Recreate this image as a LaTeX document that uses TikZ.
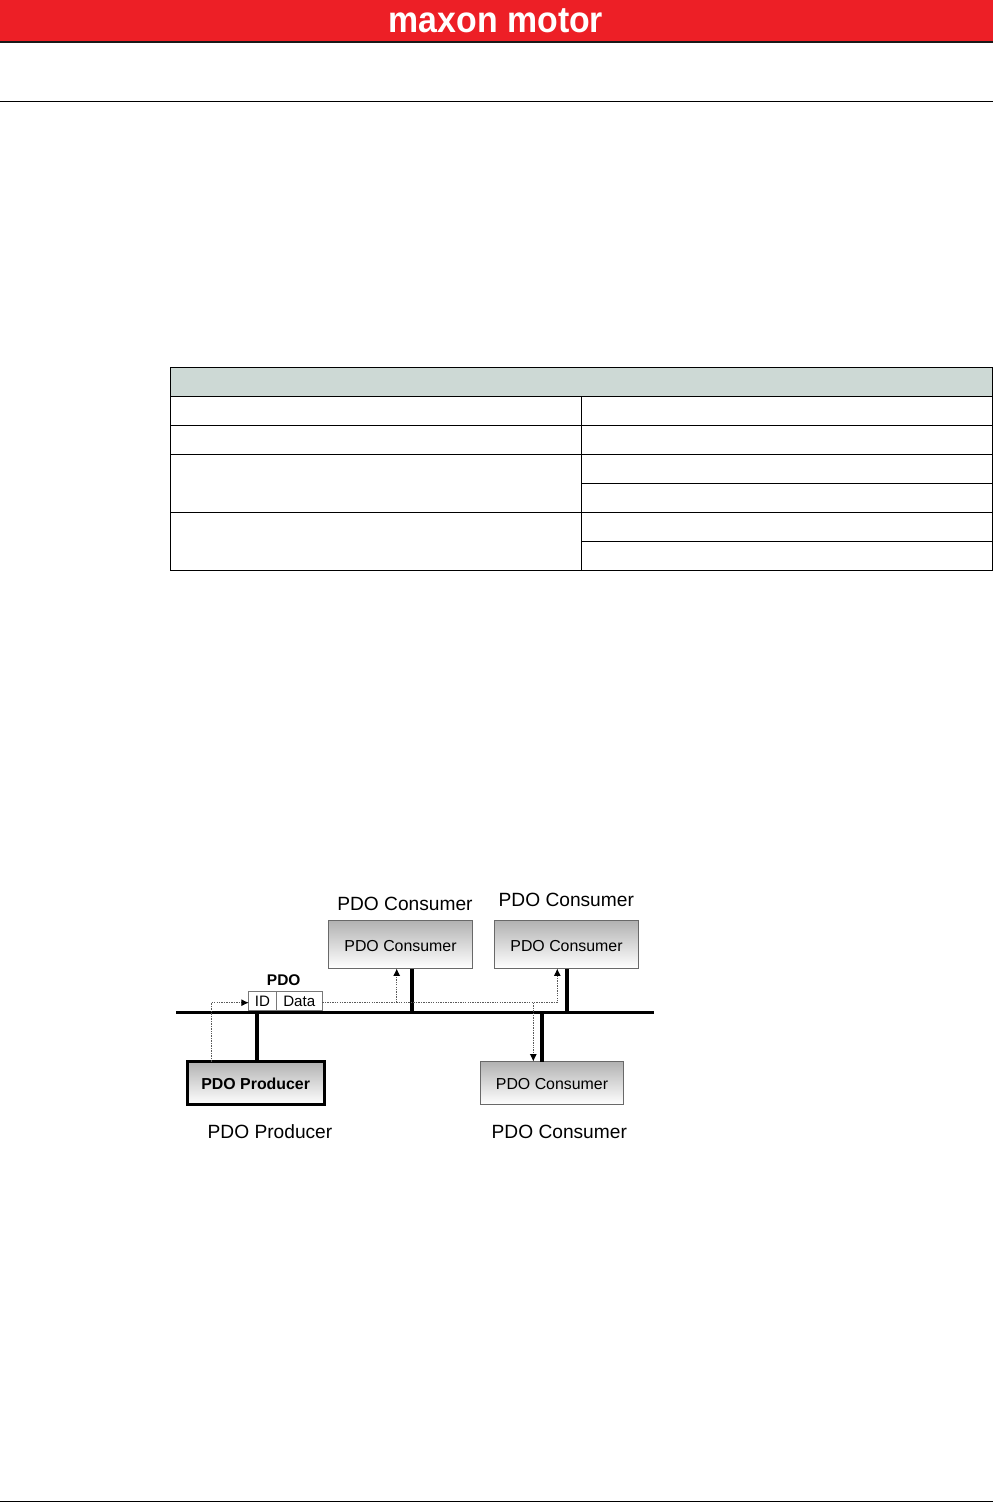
\documentclass[tikz,border=0pt]{standalone}
\usepackage{fontspec}
\setmainfont{Liberation Sans}
\usetikzlibrary{arrows.meta}
\begin{document}
\begin{tikzpicture}[x=0.01cm, y=-0.01cm]
  % Colors
  \definecolor{bandcol}{RGB}{237,31,38}
  \definecolor{headcol}{RGB}{205,217,213}
  \definecolor{boxline}{RGB}{105,105,105}
  \definecolor{cellline}{RGB}{120,120,120}
  \definecolor{flowcol}{RGB}{90,90,90}
  \definecolor{shadecol}{RGB}{178,178,178}
  %
  \tikzset{
    pdobox/.style={draw=boxline, line width=0.3pt, minimum width=144*0.01cm, minimum height=48*0.01cm,
                   inner sep=0pt, outer sep=0pt, top color=shadecol, bottom color=white,
                   text height=3.7pt, text depth=0pt, font=\fontsize{4.52}{5}\selectfont},
    cell/.style={draw=cellline, line width=0.3pt, fill=white, minimum height=19*0.01cm, inner sep=0pt,
                 outer sep=0pt, anchor=north west, text height=3.3pt, text depth=0pt,
                 font=\fontsize{4.3}{5}\selectfont},
    caption/.style={font=\fontsize{5.45}{6}\selectfont, inner sep=0pt},
    busline/.style={line width=1pt},
    stubline/.style={line width=1.15pt},
    flowline/.style={draw=flowcol, line width=0.25pt, dash pattern=on 0.4pt off 0.3pt},
    flowtip/.style={flowline, -{Latex[length=2.1pt, width=2pt, black]}},
    tablerule/.style={draw=black, line width=0.3pt},
  }
  \useasboundingbox (0,0) rectangle (993,1503);
  %
  %%% PAGE FRAME %%%
  \fill[bandcol] (0,0) rectangle (993,41);
  \fill[black!90] (0,41) rectangle (993,43);
  \node[font=\bfseries\fontsize{10.4}{12}\selectfont, text=white, inner sep=0pt, xscale=0.925] (brand) at (496,21) {maxon motor};
  \draw[line width=0.25pt] (0,101.5) -- (993,101.5);
  \draw[line width=0.25pt] (0,1501.5) -- (993,1501.5);
  %
  %%% TABLE %%%
  \draw[tablerule, fill=headcol] (170.5,367.5) rectangle (992.5,396.5);
  \foreach \ya/\yb in {396.5/425.5, 425.5/454.5, 454.5/483.5, 483.5/512.5, 512.5/541.5, 541.5/570.5} {
    \draw[tablerule] (581.5,\ya) rectangle (992.5,\yb);
  }
  \foreach \ya/\yb in {396.5/425.5, 425.5/454.5, 454.5/512.5, 512.5/570.5} {
    \draw[tablerule] (170.5,\ya) rectangle (581.5,\yb);
  }
  %
  %%% BUS DIAGRAM %%%
  \coordinate (busL) at (176,1012.7);
  \coordinate (busR) at (654,1012.7);
  %
  % Stations
  \node[pdobox] (consA) at (400.5,944.5) {PDO Consumer};
  \node[pdobox] (consB) at (566.5,944.5) {PDO Consumer};
  \node[pdobox, minimum width=143*0.01cm, minimum height=43*0.01cm] (consC) at (552,1083) {PDO Consumer};
  \node[pdobox, draw=black, line width=0.8pt, minimum width=137*0.01cm, minimum height=43*0.01cm,
        font=\bfseries\fontsize{4.52}{5}\selectfont] (prod) at (255.7,1083) {PDO Producer};
  %
  % Captions
  \node[caption] (capA) at (405,903.5) {PDO Consumer};
  \node[caption] (capB) at (566.3,900) {PDO Consumer};
  \node[caption] (capC) at (559.3,1132) {PDO Consumer};
  \node[caption] (capP) at (270,1132) {PDO Producer};
  %
  % Message frame
  \node[cell, minimum width=27.6*0.01cm] (idcell) at (248.7,991.3) {ID};
  \node[cell, minimum width=46*0.01cm] (datacell) at (idcell.north east) {Data};
  \node[font=\bfseries\fontsize{4.4}{5}\selectfont, inner sep=0pt] (pdoname) at (283.7,980) {PDO};
  %
  % Bus and stubs
  \coordinate (tapP) at (257.3,1012.7);
  \coordinate (tapA) at (412,1012.7);
  \coordinate (tapC) at (542.3,1012.7);
  \coordinate (tapB) at (566.7,1012.7);
  \draw[stubline] (tapP) -- (tapP |- prod.north);
  \draw[stubline] (tapA) -- (tapA |- consA.south);
  \draw[stubline] (tapB) -- (tapB |- consB.south);
  \draw[stubline] (tapC) -- (tapC |- consC.north);
  \draw[busline] (busL) -- (busR);
  %
  % Message flow
  \coordinate (riseP) at (211.3,1002.7);
  \coordinate (riseA) at (396.7,1002.7);
  \coordinate (dropC) at (533.3,1002.7);
  \coordinate (riseB) at (557.3,1002.7);
  \draw[flowtip] (prod.north -| riseP) -- (riseP) -- (idcell.west |- riseP);
  \draw[flowtip] (datacell.east |- riseB) -- (riseB) -- (riseB |- consB.south);
  \draw[flowtip] (riseA) -- (riseA |- consA.south);
  \draw[flowtip] (dropC) -- (dropC |- consC.north);
\end{tikzpicture}
\end{document}
